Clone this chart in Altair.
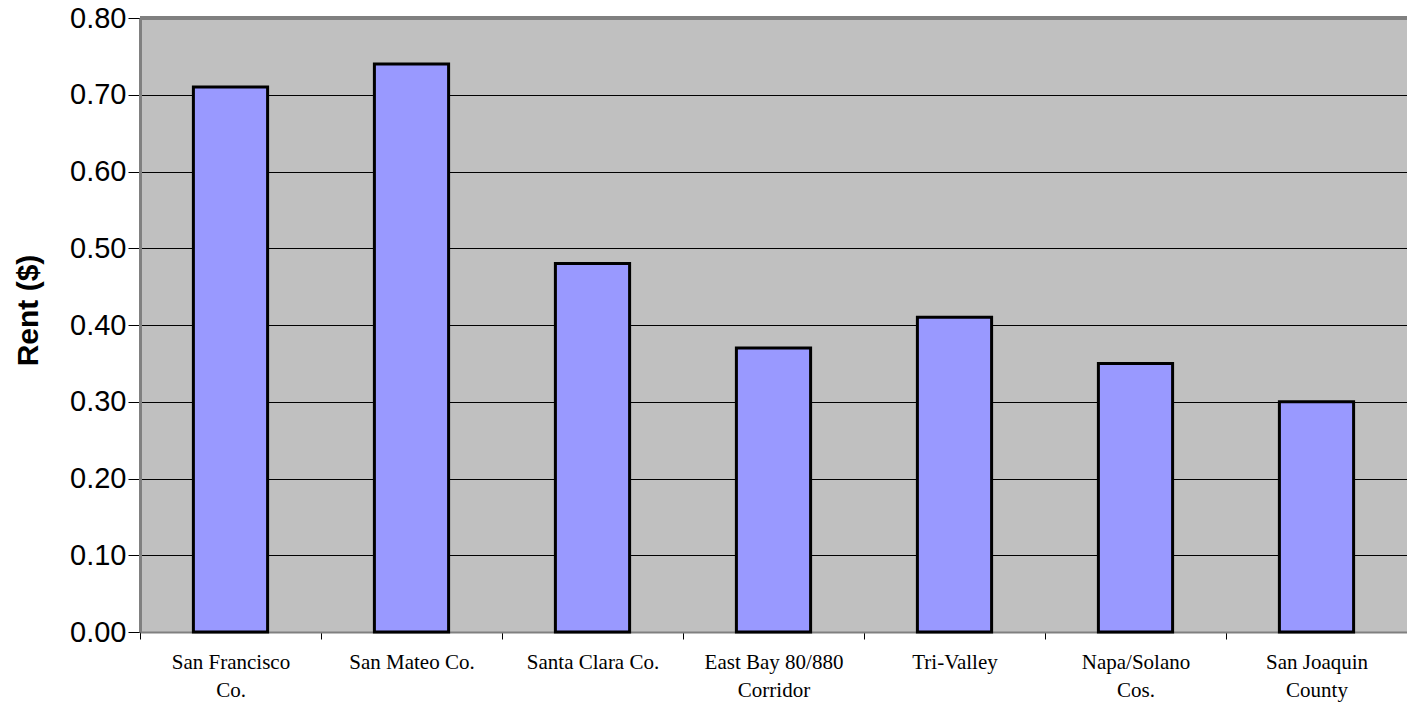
import altair as alt
import pandas as pd

# Data
category_lines = [
    ["San Francisco", "Co."],
    ["San Mateo Co."],
    ["Santa Clara Co."],
    ["East Bay 80/880", "Corridor"],
    ["Tri-Valley"],
    ["Napa/Solano", "Cos."],
    ["San Joaquin", "County"],
]
rent = [0.71, 0.74, 0.48, 0.37, 0.41, 0.35, 0.30]
y_ticks = [0.0, 0.1, 0.2, 0.3, 0.4, 0.5, 0.6, 0.7, 0.8]

categories = ["|".join(c) for c in category_lines]
df = pd.DataFrame({"region": categories, "rent": rent})

x_enc = alt.X(
    "region:N",
    sort=categories,
    scale=alt.Scale(paddingInner=0, paddingOuter=0),
    axis=alt.Axis(
        title=None,
        labelExpr="split(datum.label, '|')",
        labelFont="Liberation Serif",
        labelFontSize=21,
        labelLineHeight=28,
        labelColor="black",
        labelAngle=0,
        labelPadding=12,
        labelBaseline="top",
        tickBand="extent",
        tickColor="black",
        tickSize=7,
        tickWidth=1,
        domainColor="#808080",
        domainWidth=2,
        grid=False,
    ),
)

y_enc = alt.Y(
    "rent:Q",
    scale=alt.Scale(domain=[0, 0.8], nice=False, zero=True),
    axis=alt.Axis(
        title="Rent ($)",
        values=y_ticks,
        format=".2f",
        labelFont="Liberation Sans",
        labelFontSize=29,
        labelColor="black",
        labelPadding=2,
        tickSize=12,
        tickColor="black",
        tickWidth=1,
        domainColor="#808080",
        domainWidth=3,
        grid=True,
        gridColor="black",
        gridWidth=1,
        gridOpacity=1,
        titleFont="Liberation Sans",
        titleFontSize=30,
        titleFontWeight="bold",
        titleColor="black",
        titleAngle=-90,
        titleAlign="center",
        titleBaseline="alphabetic",
        titleX=-103,
        titleY=292,
    ),
)

bars = alt.Chart(df).mark_bar(
    fill="#9999FF",
    stroke="black",
    strokeWidth=3,
    width={"band": 0.41},
).encode(x=x_enc, y=y_enc)

top_df = pd.DataFrame({"top": [0.8]})
top_rule = alt.Chart(top_df).mark_rule(color="#808080", strokeWidth=4).encode(
    y=alt.Y("top:Q", scale=alt.Scale(domain=[0, 0.8], nice=False))
)

chart = (
    alt.layer(bars, top_rule)
    .properties(
        width=1267,
        height=614,
        autosize=alt.AutoSizeParams(type="none"),
        padding={"left": 140, "top": 18, "right": 0, "bottom": 72},
        background="white",
    )
    .configure_view(fill="#C0C0C0", stroke=None)
)

chart.save("out.html", embed_options={"renderer": "svg", "actions": False})
